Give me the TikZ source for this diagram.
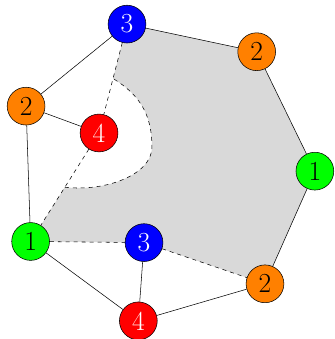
\documentclass[tikz,border=0pt]{standalone}
\usepackage{tikz}
\usetikzlibrary{calc,backgrounds}

\begin{document}
\begin{tikzpicture}[vtx/.style={circle,draw,minimum size=1cm,inner sep=0pt,font=\huge}]
  \useasboundingbox (0,0) rectangle (8.836,8.968);
  % vertices
  \node[vtx,fill=blue,text=white] (t3) at (3.36,8.33){3};
  \node[vtx,fill=orange] (r2) at (6.79,7.60){2};
  \node[vtx,fill=green] (r1) at (8.33,4.44){1};
  \node[vtx,fill=orange] (b2) at (7.01,1.46){2};
  \node[vtx,fill=red,text=white] (b4) at (3.66,0.48){4};
  \node[vtx,fill=blue,text=white] (m3) at (3.81,2.55){3};
  \node[vtx,fill=green] (l1) at (0.81,2.58){1};
  \node[vtx,fill=orange] (l2) at (0.69,6.16){2};
  \node[vtx,fill=red,text=white] (m4) at (2.62,5.45){4};
  \coordinate (p2) at ($(t3)!0.5!(m4)$);
  \coordinate (p1) at ($(m4)!0.5!(l1)$);
  % shaded face
  \begin{scope}[on background layer]
    \fill[gray!30] (t3.center)--(r2.center)--(r1.center)--(b2.center)--(m3.center)--(l1.center)--(p1)
      .. controls (2.78,3.89) and (4.02,4.34) .. (4.02,5.08)
      .. controls (4.02,5.93) and (3.70,6.46) .. (p2) -- cycle;
  \end{scope}
  \draw[dashed] (p1) .. controls (2.78,3.89) and (4.02,4.34) .. (4.02,5.08)
    .. controls (4.02,5.93) and (3.70,6.46) .. (p2);
  % edges
  \draw (t3)--(r2)--(r1)--(b2)--(b4)--(l1)--(l2)--(t3);
  \draw (l2)--(m4) (b4)--(m3);
  \draw[dashed] (t3)--(m4)--(l1)--(m3)--(b2);
\end{tikzpicture}
\end{document}
